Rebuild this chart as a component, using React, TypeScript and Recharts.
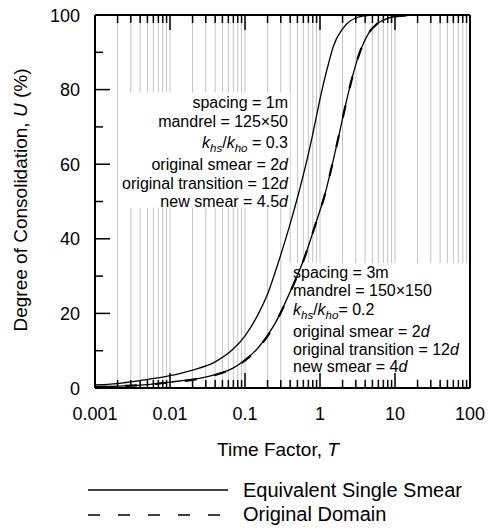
import React from 'react';
import { ComposedChart, Line, XAxis, YAxis, CartesianGrid, ReferenceArea } from 'recharts';

// ---------- data ----------
const DECADES = [0.001, 0.01, 0.1, 1, 10, 100];
const DECADE_LABELS = ['0.001', '0.01', '0.1', '1', '10', '100'];
const MINOR_MULT = [2, 3, 4, 5, 6, 7, 8, 9];
const Y_TICKS = [0, 10, 20, 30, 40, 50, 60, 70, 80, 90, 100];
const Y_LABELS = ['0', '', '20', '', '40', '', '60', '', '80', '', '100'];

// spacing = 1m, equivalent single smear
const T_ESS_1M = [0.001, 0.002, 0.004, 0.01, 0.02, 0.04, 0.07, 0.1, 0.15, 0.2, 0.29, 0.4, 0.5, 0.65, 0.78, 0.9, 1.06, 1.3, 1.5, 2, 2.5, 3, 4, 5, 7, 10, 100];
const U_ESS_1M = [0.8, 1.2, 2.0, 3.3, 4.8, 7.0, 10.5, 14, 19.8, 25.2, 34.8, 44, 51, 60, 67, 73, 79.8, 87, 91.5, 96.3, 98.3, 99.2, 99.8, 100, 100, 100, 100];

// spacing = 3m, equivalent single smear
const T_ESS_3M = [0.001, 0.002, 0.005, 0.01, 0.02, 0.04, 0.07, 0.1, 0.15, 0.25, 0.4, 0.63, 0.8, 1.0, 1.13, 1.5, 1.8, 2.2, 2.67, 3.2, 3.63, 4.5, 5.75, 8, 10, 15, 20, 100];
const U_ESS_3M = [0.3, 0.5, 0.9, 1.6, 2.3, 3.6, 5.4, 7.5, 10.8, 17.2, 25.8, 35.3, 41.6, 47.6, 51, 61, 68, 76, 83, 88.5, 91.5, 95.3, 97.6, 99.1, 99.6, 99.9, 100, 100];

// spacing = 3m, original domain
const T_ORIG_3M = [0.001, 0.002, 0.005, 0.01, 0.02, 0.04, 0.07, 0.1, 0.15, 0.25, 0.4, 0.63, 0.8, 1.0, 1.13, 1.5, 1.8, 2.2, 2.67, 3.2, 3.63, 4.5, 5.75, 8, 10, 15, 20, 100];
const U_ORIG_3M = [0.3, 0.5, 0.9, 1.5, 2.2, 3.5, 5.3, 7.4, 10.7, 17.1, 25.7, 35.3, 41.6, 47.6, 51, 61, 68, 76, 83, 88.5, 91.5, 95.3, 97.6, 99.1, 99.6, 99.9, 100, 100];

// ---------- layout ----------
const W = 488;
const H = 532;
// axes are 1px thick in the layout, so plot area = margin + 1
const MARGIN = { top: 14, right: 17, bottom: 143, left: 94 };
const PLOT_TOP = 15;
const PLOT_BOTTOM = 388;
const PLOT_LEFT = 95;
const PLOT_RIGHT = 470;
const FONT = '"Liberation Sans", Arial, Helvetica, sans-serif';
const GRID = '#c4c4c4';

const X_TICKS: number[] = [];
DECADES.forEach((d, i) => {
  X_TICKS.push(d);
  if (i < DECADES.length - 1) MINOR_MULT.forEach((m) => X_TICKS.push(d * m));
});
X_TICKS.sort((a, b) => a - b);

const decadeIndex = (v: number) => DECADES.findIndex((d) => Math.abs(v / d - 1) < 1e-6);

const toRows = (ts: number[], us: number[]) => ts.map((t, i) => ({ T: t, U: us[i] }));
const ESS_1M = toRows(T_ESS_1M, U_ESS_1M);
const ESS_3M = toRows(T_ESS_3M, U_ESS_3M);
const ORIG_3M = toRows(T_ORIG_3M, U_ORIG_3M);

// ---------- ticks ----------
const BottomTick = (props: any) => {
  const { x, payload } = props;
  const idx = decadeIndex(payload.value);
  const major = idx >= 0;
  return (
    <g>
      <line x1={x} x2={x} y1={PLOT_BOTTOM} y2={PLOT_BOTTOM - (major ? 15 : 8)} stroke="#000" strokeWidth={1.5} />
      {major && (
        <text x={x} y={PLOT_BOTTOM + 32} textAnchor="middle" fontSize={18} fontFamily={FONT} fill="#000">
          {DECADE_LABELS[idx]}
        </text>
      )}
    </g>
  );
};

const TopTick = (props: any) => {
  const { x, payload } = props;
  const major = decadeIndex(payload.value) >= 0;
  return <line x1={x} x2={x} y1={PLOT_TOP} y2={PLOT_TOP + (major ? 15 : 8)} stroke="#000" strokeWidth={1.5} />;
};

const LeftTick = (props: any) => {
  const { y, payload } = props;
  const label = Y_LABELS[Y_TICKS.indexOf(payload.value)] ?? '';
  const major = label !== '';
  return (
    <g>
      <line x1={PLOT_LEFT} x2={PLOT_LEFT + (major ? 15 : 8)} y1={y} y2={y} stroke="#000" strokeWidth={1.5} />
      {major && (
        <text x={PLOT_LEFT - 15} y={y + 6.5} textAnchor="end" fontSize={18} fontFamily={FONT} fill="#000">
          {label}
        </text>
      )}
    </g>
  );
};

const RightTick = (props: any) => {
  const { y, payload } = props;
  const label = Y_LABELS[Y_TICKS.indexOf(payload.value)] ?? '';
  const major = label !== '';
  return <line x1={PLOT_RIGHT} x2={PLOT_RIGHT - (major ? 15 : 8)} y1={y} y2={y} stroke="#000" strokeWidth={1.5} />;
};

const I = ({ children }: { children: React.ReactNode }) => <tspan fontStyle="italic">{children}</tspan>;

const KRatio = ({ value, space }: { value: string; space: boolean }) => (
  <>
    <tspan fontStyle="italic">k</tspan>
    <tspan fontStyle="italic" fontSize={11.5} dy={4}>hs</tspan>
    <tspan dy={-4}>/</tspan>
    <tspan fontStyle="italic">k</tspan>
    <tspan fontStyle="italic" fontSize={11.5} dy={4}>ho</tspan>
    <tspan dy={-4}>{(space ? ' ' : '') + '= ' + value}</tspan>
  </>
);

export default function App() {
  return (
    <div style={{ position: 'absolute', left: 0, top: 0, width: W, height: H, background: '#fff' }}>
      <ComposedChart width={W} height={H} margin={MARGIN}>
        <CartesianGrid vertical horizontal={false} stroke={GRID} strokeWidth={1} />
        <ReferenceArea x1={0.0022} x2={0.4} y1={48.3} y2={79.2} fill="#fff" fillOpacity={1} stroke="none" ifOverflow="visible" />
        <ReferenceArea x1={0.37} x2={100} y1={2.4} y2={33.5} fill="#fff" fillOpacity={1} stroke="none" ifOverflow="visible" />
        <XAxis
          dataKey="T"
          type="number"
          scale="log"
          domain={[0.001, 100]}
          allowDataOverflow
          ticks={X_TICKS}
          interval={0}
          height={1}
          tickLine={false}
          tick={<BottomTick />}
          axisLine={{ stroke: '#000', strokeWidth: 2 }}
        />
        <XAxis
          xAxisId="top"
          orientation="top"
          dataKey="T"
          type="number"
          scale="log"
          domain={[0.001, 100]}
          allowDataOverflow
          ticks={X_TICKS}
          interval={0}
          height={1}
          tickLine={false}
          tick={<TopTick />}
          axisLine={{ stroke: '#000', strokeWidth: 2 }}
        />
        <YAxis
          type="number"
          domain={[0, 100]}
          ticks={Y_TICKS}
          interval={0}
          width={1}
          tickLine={false}
          tick={<LeftTick />}
          axisLine={{ stroke: '#000', strokeWidth: 2 }}
        />
        <YAxis
          yAxisId="right"
          orientation="right"
          type="number"
          domain={[0, 100]}
          ticks={Y_TICKS}
          interval={0}
          width={1}
          tickLine={false}
          tick={<RightTick />}
          axisLine={{ stroke: '#000', strokeWidth: 2 }}
        />
        <Line data={ESS_1M} dataKey="U" type="monotone" stroke="#000" strokeWidth={1.3} dot={false} isAnimationActive={false} name="Equivalent Single Smear" />
        <Line data={ORIG_3M} dataKey="U" type="monotone" stroke="#000" strokeWidth={2.2} strokeDasharray="12 18" dot={false} isAnimationActive={false} name="Original Domain" />
        <Line data={ESS_3M} dataKey="U" type="monotone" stroke="#000" strokeWidth={1.3} dot={false} isAnimationActive={false} name="Equivalent Single Smear" />
      </ComposedChart>
      <svg width={W} height={H} style={{ position: 'absolute', left: 0, top: 0, pointerEvents: 'none' }} fontFamily={FONT} fill="#000">
        {/* annotation: spacing 1m */}
        <g fontSize={16} textAnchor="end">
          <text x={288} y={108}>spacing = 1m</text>
          <text x={288} y={127}>mandrel = 125×50</text>
          <text x={288} y={148}><KRatio value="0.3" space /></text>
          <text x={288} y={170}>original smear = 2<I>d</I></text>
          <text x={288} y={189}>original transition = 12<I>d</I></text>
          <text x={288} y={207}>new smear = 4.5<I>d</I></text>
        </g>
        {/* annotation: spacing 3m */}
        <g fontSize={16} textAnchor="start">
          <text x={293} y={278}>spacing = 3m</text>
          <text x={293} y={296}>mandrel = 150×150</text>
          <text x={293} y={315}><KRatio value="0.2" space={false} /></text>
          <text x={293} y={337}>original smear = 2<I>d</I></text>
          <text x={293} y={355}>original transition = 12<I>d</I></text>
          <text x={293} y={372}>new smear = 4<I>d</I></text>
        </g>
        {/* axis titles */}
        <text x={278} y={456} textAnchor="middle" fontSize={19}>
          Time Factor, <I>T</I>
        </text>
        <text transform="rotate(-90)" x={-200} y={27} textAnchor="middle" fontSize={19}>
          Degree of Consolidation, <I>U</I> (%)
        </text>
        {/* legend */}
        <line x1={88} x2={228} y1={490} y2={490} stroke="#000" strokeWidth={1.5} />
        <text x={243} y={497} fontSize={20}>Equivalent Single Smear</text>
        <line x1={88} x2={228} y1={515} y2={515} stroke="#000" strokeWidth={1.5} strokeDasharray="12 18" />
        <text x={243} y={521} fontSize={20}>Original Domain</text>
      </svg>
    </div>
  );
}
